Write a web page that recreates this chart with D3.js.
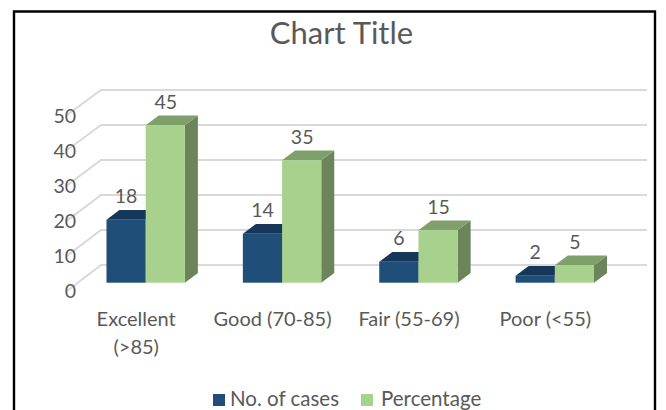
<!DOCTYPE html>
<html><head><meta charset="utf-8">
<style>html,body{margin:0;padding:0;background:#fff}svg{display:block}text{font-family:Lato,"Open Sans",sans-serif;fill:#595959}</style>
<script src="https://cdn.jsdelivr.net/npm/d3@7"></script></head>
<body><svg id="c" width="666" height="410"></svg>
<script>
const categories = ["Excellent (>85)", "Good (70-85)", "Fair (55-69)", "Poor (<55)"];
const categoryLines = [["Excellent", "(>85)"], ["Good (70-85)"], ["Fair (55-69)"], ["Poor (<55)"]];
const seriesNames = ["No. of cases", "Percentage"];
const noOfCases = [18, 14, 6, 2];
const percentage = [45, 35, 15, 5];
const yTicks = [0, 10, 20, 30, 40, 50];
const chartTitle = "Chart Title";

const front = ["#1f4e79", "#a9d18e"], top_ = ["#17375a", "#7f9f6b"], side = ["#163a5a", "#6b8459"];
const seriesValues = [noOfCases, percentage];
const svg = d3.select("#c");

// frame
svg.append("path").attr("d", "M14,410V11.5H655V410").attr("fill", "none").attr("stroke", "#000").attr("stroke-width", 2.4);

svg.append("text").attr("x", 341.5).attr("y", 44).attr("text-anchor", "middle").attr("font-size", 31).text(chartTitle);

const x = d3.scaleBand().domain(categories).range([77.5, 623]);
const inner = d3.scaleBand().domain(seriesNames).range([0, 78.4]);
const yBar = d3.scaleLinear().domain([0, 50]).range([282.7, 107.7]);
const yWallBack = d3.scaleLinear().domain([0, 50]).range([265, 90]);
const yWallFront = d3.scaleLinear().domain([0, 50]).range([291, 115]);
const wallL = 67, wallB = 101, wallR = 647, dx = 13, dy = 9.6;

// gridlines with the perspective wall
const grid = svg.append("g").attr("fill", "none").attr("stroke", "#d9d9d9").attr("stroke-width", 2);
yTicks.forEach(t => {
  grid.append("path").attr("d", d3.line()([[wallL, yWallFront(t)], [wallB, yWallBack(t)], [wallR, yWallBack(t)]]));
});

// value axis
const axis = svg.append("g").attr("transform", "translate(52,0)")
  .call(d3.axisLeft(d3.scaleLinear().domain([0, 50]).range([291, 116])).tickValues(yTicks).tickSize(0).tickPadding(0));
axis.select(".domain").remove();
axis.selectAll("text").attr("font-size", 19.5).attr("font-family", "Lato").attr("fill", "#595959").attr("x", 24);

// bars
categories.forEach((c, i) => {
  const gx = x(c) + x.bandwidth() / 2 - 39.2;
  const g = svg.append("g");
  seriesNames.forEach((s, k) => {
    const v = seriesValues[k][i];
    const x0 = gx + inner(s), x1 = x0 + inner.bandwidth(), yt = yBar(v), yb = yBar(0);
    const line = d3.line();
    g.append("path").attr("fill", side[k]).attr("d", line([[x1, yt], [x1 + dx, yt - dy], [x1 + dx, yb - dy], [x1, yb]]) + "Z");
    g.append("path").attr("fill", top_[k]).attr("d", line([[x0, yt], [x0 + dx, yt - dy], [x1 + dx, yt - dy], [x1, yt]]) + "Z");
    g.append("rect").attr("x", x0).attr("y", yt).attr("width", x1 - x0).attr("height", yb - yt).attr("fill", front[k]);
  });
  seriesNames.forEach((s, k) => {
    const v = seriesValues[k][i];
    g.append("text").attr("x", gx + inner(s) + inner.bandwidth() / 2 + (k ? 0.5 : 0)).attr("y", yBar(v) - 16.5)
      .attr("text-anchor", "middle").attr("font-size", 19.5).text(v);
  });
  const t = svg.append("text").attr("text-anchor", "middle").attr("font-size", 20);
  categoryLines[i].forEach((l, j) => {
    t.append("tspan").attr("x", x(c) + x.bandwidth() / 2 - 9.5).attr("y", 326 + j * 28).text(l);
  });
});

// legend
const legendX = [213, 361], legendTextX = [230, 381];
seriesNames.forEach((s, k) => {
  svg.append("rect").attr("x", legendX[k]).attr("y", 394).attr("width", 12).attr("height", 12).attr("fill", front[k]);
  svg.append("text").attr("x", legendTextX[k]).attr("y", 406).attr("font-size", 20.5).text(s);
});
</script></body></html>
